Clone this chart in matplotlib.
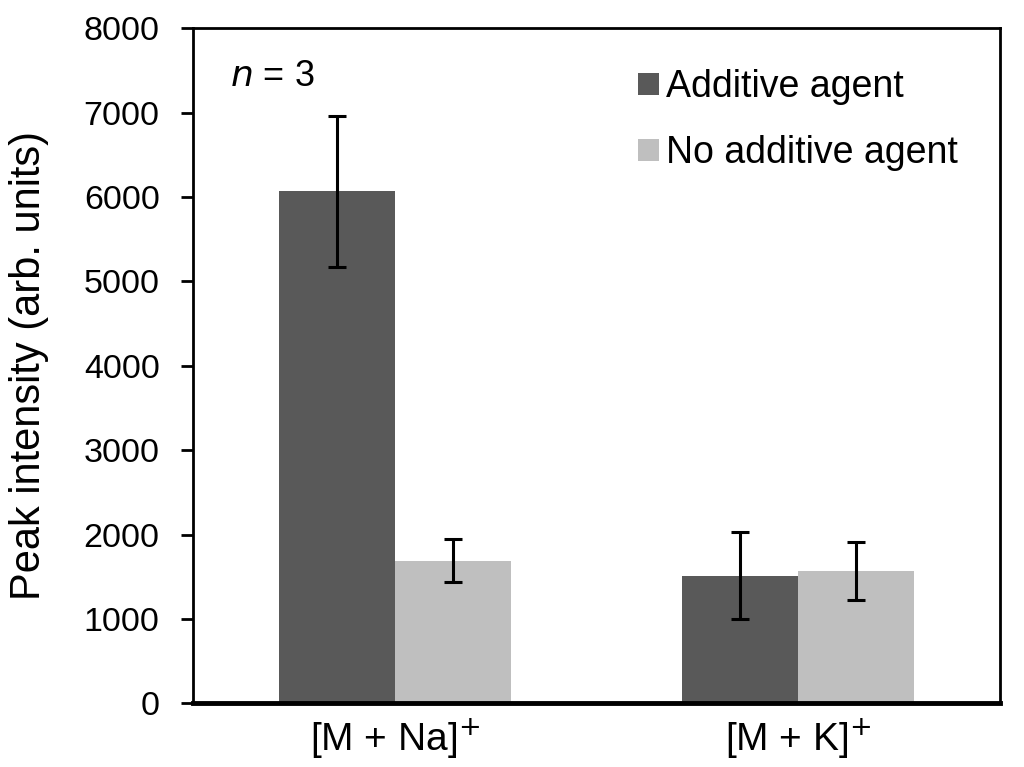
import numpy as np
import matplotlib.pyplot as plt

plt.rcParams['font.family'] = ['Liberation Sans', 'DejaVu Sans']

# data
categories = ['[M + Na]$^{+}$', '[M + K]$^{+}$']
additive = [6070, 1515]
additiveErr = [895, 510]
noAdditive = [1690, 1570]
noAdditiveErr = [255, 345]

fig = plt.figure(figsize=(10.24, 7.67), dpi=100)
ax = fig.add_axes([0.1885, 0.083, 0.788, 0.880])

x = np.arange(len(categories))
w = 0.288
errStyle = dict(ecolor='black', elinewidth=2.2, capsize=6.5, capthick=2.2)
ax.bar(x - w/2, additive, w, yerr=additiveErr, color='#595959',
       label='Additive agent', error_kw=errStyle, zorder=2)
ax.bar(x + w/2, noAdditive, w, yerr=noAdditiveErr, color='#bfbfbf',
       label='No additive agent', error_kw=errStyle, zorder=2)

ax.set_xlim(-0.5, 1.5)
ax.set_ylim(0, 8000)
ax.set_yticks(np.arange(0, 8001, 1000))
ax.set_xticks(x)
ax.set_xticklabels(categories)
ax.tick_params(axis='y', direction='out', length=9, width=2, labelsize=24.5, pad=15)
ax.tick_params(axis='x', length=0, labelsize=28, pad=10)
ax.set_ylabel('Peak intensity (arb. units)', fontsize=30, labelpad=25)

for s in ax.spines.values():
    s.set_linewidth(2)
ax.spines['bottom'].set_linewidth(3.5)

ax.text(0.046, 0.955, '$n$ = 3', transform=ax.transAxes, fontsize=26,
        va='top', ha='left')
ax.legend(loc='upper right', fontsize=27, frameon=False, handlelength=0.54,
          handleheight=0.54, handletextpad=0.2, labelspacing=0.8,
          borderaxespad=0, bbox_to_anchor=(0.9665, 0.962))

plt.savefig('out.png', dpi=100)
